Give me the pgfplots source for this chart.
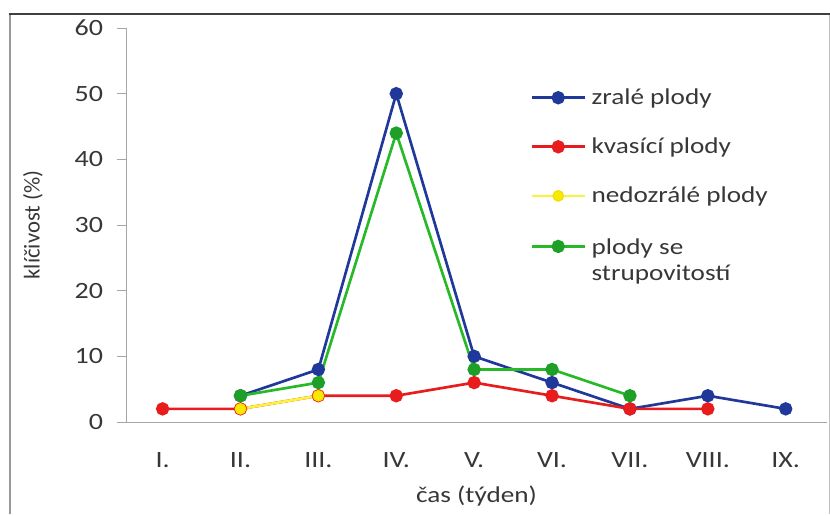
\documentclass[border=0pt]{standalone}
\usepackage{pgfplots}
\pgfplotsset{compat=1.18}
\usepackage{fontspec}
\setmainfont{Carlito}[FakeStretch=1.2]
\newfontfamily\rotfont{Carlito}

\definecolor{cblue}{RGB}{31,56,153}
\definecolor{cred}{RGB}{232,28,28}
\definecolor{cyellowline}{RGB}{250,245,60}
\definecolor{cyellowmark}{RGB}{245,235,0}
\definecolor{cgreen}{RGB}{40,185,40}
\definecolor{cgreenmark}{RGB}{30,160,40}
\definecolor{ctext}{RGB}{55,55,55}

\begin{document}
\begin{tikzpicture}
% page area and outer frame
\path (0pt,0pt) rectangle (622.5pt,385.5pt);
\draw[line width=1.6pt, black!40] (7.5pt,0pt) -- (7.5pt,375pt);
\draw[line width=0.6pt, black!25] (621.75pt,0pt) -- (621.75pt,375pt);
\fill[black!75] (6.75pt,374pt) rectangle (622.5pt,376pt);

\begin{axis}[
  at={(94.5pt,69pt)}, anchor=south west,
  scale only axis, width=525.75pt, height=295.5pt,
  xmin=-0.47, xmax=8.53, ymin=0, ymax=60,
  axis lines*=left,
  axis line style={black!35, line width=0.7pt},
  xtick={0,...,8},
  xticklabels={I.,II.,III.,IV.,V.,VI.,VII.,VIII.,IX.},
  ytick={0,10,...,60},
  x tick style={draw=none},
  y tick style={black!35, line width=0.7pt},
  tick align=outside,
  major tick length=7pt,
  /pgf/number format/assume math mode=true,
  tick label style={font=\fontsize{17.5}{20}\selectfont, text=ctext},
  xticklabel style={anchor=center, yshift=-21.5pt},
  yticklabel style={anchor=east, inner sep=0pt, xshift=-10pt},
  xlabel={čas (týden)},
  ylabel={\rotfont klíčivost (\%)},
  every axis x label/.style={at={(axis description cs:0.5,-0.188)}, anchor=center,
    font=\fontsize{17}{20}\selectfont, text=ctext},
  every axis y label/.style={at={(axis description cs:-0.1327,0.5)}, rotate=90, anchor=center,
    font=\fontsize{17}{20}\selectfont, text=ctext},
  legend image code/.code={\draw[mark repeat=2,mark phase=2,#1] plot coordinates {(0pt,0pt) (20pt,0pt) (40pt,0pt)};},
  legend cell align=left,
  legend style={draw=none, fill=none, at={(axis description cs:0.5763,0.853)}, anchor=north west,
    inner sep=0pt, row sep=19.5pt, font=\fontsize{17}{20}\selectfont, text=ctext,
    /tikz/every odd column/.style={column sep=2pt}},
  every axis plot/.append style={line width=2pt, mark=*, mark size=4pt},
]
\addplot[color=cblue, mark options={fill=cblue}] coordinates {
  (1,4) (2,8) (3,50) (4,10) (5,6) (6,2) (7,4) (8,2)};
\addlegendentry{zralé plody}
\addplot[color=cred, mark options={fill=cred}] coordinates {
  (0,2) (1,2) (2,4) (3,4) (4,6) (5,4) (6,2) (7,2)};
\addlegendentry{kvasící plody}
\addplot[color=cyellowline, mark options={draw=cyellowmark!85!orange, fill=cyellowmark, line width=0.8pt}] coordinates {
  (1,2) (2,4)};
\addlegendentry{nedozrálé plody}
\addplot[color=cgreen, mark options={draw=cgreenmark, fill=cgreenmark}] coordinates {
  (1,4) (2,6) (3,44) (4,8) (5,8) (6,4)};
\addlegendentry{\begin{tabular}[t]{@{}l@{}}plody se\\[-1pt]strupovitostí\end{tabular}}
\end{axis}
\end{tikzpicture}
\end{document}
